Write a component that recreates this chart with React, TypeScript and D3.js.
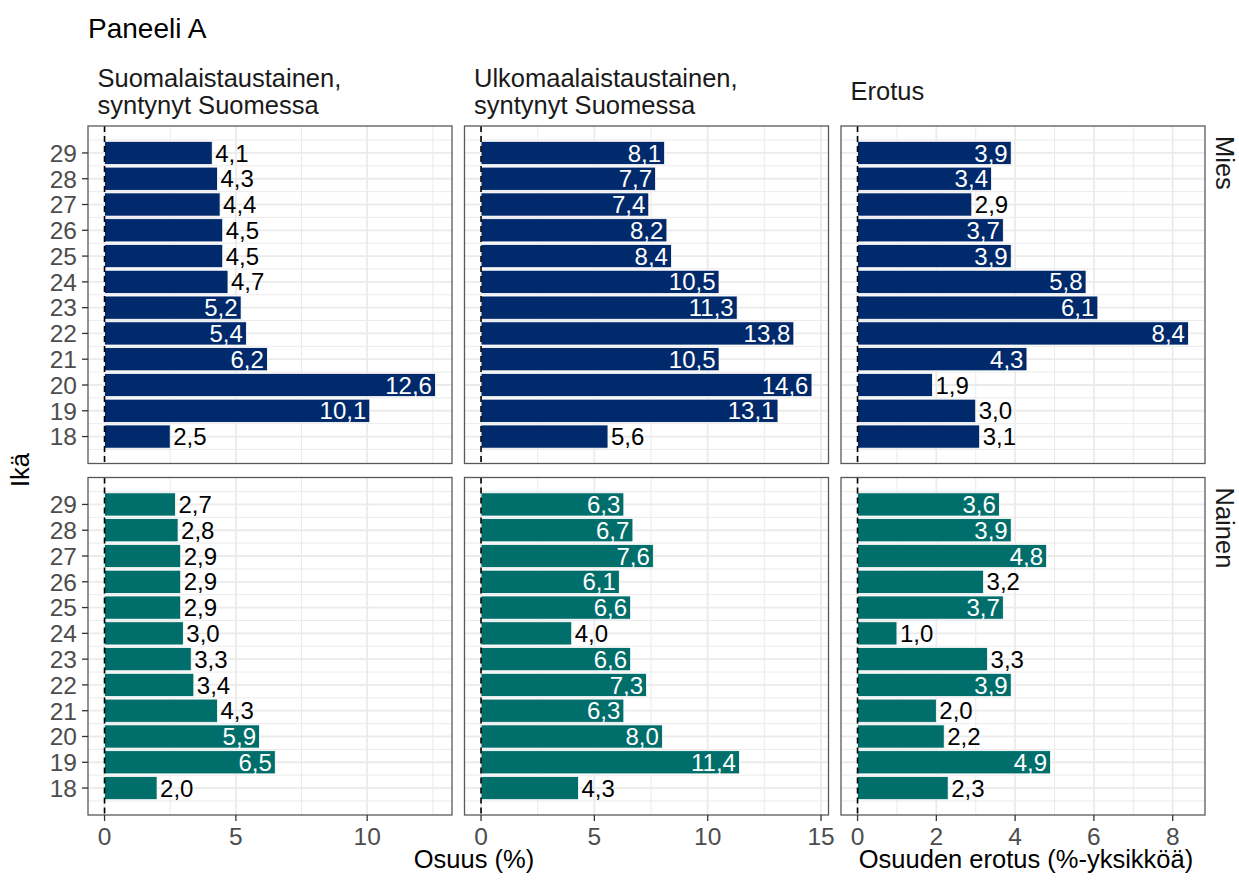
import React from "react";
import * as d3 from "d3";

const AGES = [29, 28, 27, 26, 25, 24, 23, 22, 21, 20, 19, 18];
const MIES_FI = [4.1, 4.3, 4.4, 4.5, 4.5, 4.7, 5.2, 5.4, 6.2, 12.6, 10.1, 2.5];
const MIES_ULK = [8.1, 7.7, 7.4, 8.2, 8.4, 10.5, 11.3, 13.8, 10.5, 14.6, 13.1, 5.6];
const MIES_ERO = [3.9, 3.4, 2.9, 3.7, 3.9, 5.8, 6.1, 8.4, 4.3, 1.9, 3.0, 3.1];
const NAINEN_FI = [2.7, 2.8, 2.9, 2.9, 2.9, 3.0, 3.3, 3.4, 4.3, 5.9, 6.5, 2.0];
const NAINEN_ULK = [6.3, 6.7, 7.6, 6.1, 6.6, 4.0, 6.6, 7.3, 6.3, 8.0, 11.4, 4.3];
const NAINEN_ERO = [3.6, 3.9, 4.8, 3.2, 3.7, 1.0, 3.3, 3.9, 2.0, 2.2, 4.9, 2.3];

const COLUMN_LABELS = [
  ["Suomalaistaustainen,", "syntynyt Suomessa"],
  ["Ulkomaalaistaustainen,", "syntynyt Suomessa"],
  ["Erotus"],
];
const ROW_LABELS = ["Mies", "Nainen"];
const X_TICKS = [[0, 5, 10], [0, 5, 10, 15], [0, 2, 4, 6, 8]];
const X_TITLE_SHARE = "Osuus (%)";
const X_TITLE_DIFF = "Osuuden erotus (%-yksikköä)";
const Y_TITLE = "Ikä";
const TITLE = "Paneeli A";
const NEXT_TITLE = "Paneeli B";

const ROW_COLORS = ["#002A6B", "#006E6B"];

const DATA = [
  [MIES_FI, MIES_ULK, MIES_ERO],
  [NAINEN_FI, NAINEN_ULK, NAINEN_ERO],
];

const W = 1239;
const H = 880;
const FONT = "'Liberation Sans', Arial, Helvetica, sans-serif";
const PANEL_LEFT = 88;
const PANEL_W = 364;
const PANEL_GAP_X = 12.5;
const PANEL_TOP = 126;
const PANEL_H = 337.5;
const PANEL_GAP_Y = 14;

const fmt = (v: number) => d3.format(".1f")(v).replace(".", ",");

export default function App() {
  const ageMin = d3.min(AGES)! - 0.45;
  const ageMax = d3.max(AGES)! + 0.45;
  const ageExp = (ageMax - ageMin) * 0.05;

  const cols = [0, 1, 2].map((c) => {
    const x0 = PANEL_LEFT + c * (PANEL_W + PANEL_GAP_X);
    const maxV = d3.max([...DATA[0][c], ...DATA[1][c]])!;
    const scale = d3
      .scaleLinear()
      .domain([-0.05 * maxV, 1.05 * maxV])
      .range([x0, x0 + PANEL_W]);
    const ticks = X_TICKS[c];
    const step = ticks[1] - ticks[0];
    const minor: number[] = [];
    for (let t = ticks[0] - step / 2; t <= scale.domain()[1]; t += step) {
      if (t >= scale.domain()[0]) minor.push(t);
    }
    return { x0, maxV, scale, ticks, minor };
  });

  const rows = [0, 1].map((r) => {
    const y0 = PANEL_TOP + r * (PANEL_H + PANEL_GAP_Y);
    const scale = d3
      .scaleLinear()
      .domain([ageMin - ageExp, ageMax + ageExp])
      .range([y0 + PANEL_H, y0]);
    const minor: number[] = [];
    for (let a = d3.min(AGES)! - 0.5; a <= d3.max(AGES)! + 0.5; a += 1) minor.push(a);
    return { y0, scale, minor };
  });

  const bottomY = rows[1].y0 + PANEL_H;

  return (
    <svg
      width={W}
      height={H}
      style={{ position: "absolute", left: 0, top: 0, display: "block", background: "#fff" }}
      fontFamily={FONT}
    >
      <rect x={0} y={0} width={W} height={H} fill="#fff" />
      <text x={88} y={38} fontSize={28} fill="#000">
        {TITLE}
      </text>
      <text x={88} y={903} fontSize={28} fill="#000">
        {NEXT_TITLE}
      </text>

      {/* column strips */}
      {cols.map((col, c) => {
        const lines = COLUMN_LABELS[c];
        const baselines = lines.length === 2 ? [87, 114] : [100];
        return (
          <text key={"strip" + c} fontSize={25.5} fill="#1A1A1A">
            {lines.map((l, i) => (
              <tspan key={i} x={col.x0 + 9.5} y={baselines[i]}>
                {l}
              </tspan>
            ))}
          </text>
        );
      })}

      {/* row strips */}
      {rows.map((row, r) => (
        <text
          key={"rstrip" + r}
          transform={`translate(1216,${row.y0 + 10}) rotate(90)`}
          fontSize={25.5}
          fill="#1A1A1A"
        >
          {ROW_LABELS[r]}
        </text>
      ))}

      {rows.map((row, r) =>
        cols.map((col, c) => {
          const vals = DATA[r][c];
          const [px0, px1] = col.scale.range();
          const [py1, py0] = row.scale.range();
          const bw = row.scale(0) - row.scale(0.9);
          return (
            <g key={`p${r}${c}`}>
              {/* minor grid */}
              {col.minor.map((t) => (
                <line key={"vx" + t} x1={col.scale(t)} x2={col.scale(t)} y1={py0} y2={py1} stroke="#EBEBEB" strokeWidth={1} />
              ))}
              {row.minor.map((a) => (
                <line key={"hy" + a} x1={px0} x2={px1} y1={row.scale(a)} y2={row.scale(a)} stroke="#EBEBEB" strokeWidth={1} />
              ))}
              {/* major grid */}
              {col.ticks.map((t) => (
                <line key={"vM" + t} x1={col.scale(t)} x2={col.scale(t)} y1={py0} y2={py1} stroke="#EBEBEB" strokeWidth={1.8} />
              ))}
              {AGES.map((a) => (
                <line key={"hM" + a} x1={px0} x2={px1} y1={row.scale(a)} y2={row.scale(a)} stroke="#EBEBEB" strokeWidth={1.8} />
              ))}
              {/* bars */}
              {AGES.map((a, i) => (
                <rect
                  key={"b" + a}
                  x={col.scale(0)}
                  y={row.scale(a + 0.45)}
                  width={col.scale(vals[i]) - col.scale(0)}
                  height={bw}
                  fill={ROW_COLORS[r]}
                  stroke="#fff"
                  strokeWidth={0.8}
                />
              ))}
              {/* labels */}
              {AGES.map((a, i) => {
                const v = vals[i];
                const inside = v > 0.4 * col.maxV;
                return (
                  <text
                    key={"l" + a}
                    x={inside ? col.scale(v) - 3.5 : col.scale(v) + 3}
                    y={row.scale(a)}
                    dy="0.36em"
                    textAnchor={inside ? "end" : "start"}
                    fontSize={24}
                    fill={inside ? "#fff" : "#000"}
                  >
                    {fmt(v)}
                  </text>
                );
              })}
              {/* zero line */}
              <line
                x1={col.scale(0)}
                x2={col.scale(0)}
                y1={py0}
                y2={py1}
                stroke="#000"
                strokeWidth={1.6}
                strokeDasharray="6,4"
              />
              {/* border */}
              <rect x={px0} y={py0} width={px1 - px0} height={py1 - py0} fill="none" stroke="#595959" strokeWidth={1.3} />
            </g>
          );
        })
      )}

      {/* y axis */}
      {rows.map((row, r) => (
        <g key={"yax" + r}>
          {AGES.map((a) => (
            <g key={a}>
              <line x1={PANEL_LEFT - 6} x2={PANEL_LEFT} y1={row.scale(a)} y2={row.scale(a)} stroke="#333" strokeWidth={1.3} />
              <text x={PANEL_LEFT - 11} y={row.scale(a)} dy="0.36em" textAnchor="end" fontSize={24.5} fill="#4D4D4D">
                {a}
              </text>
            </g>
          ))}
        </g>
      ))}

      {/* x axes */}
      {cols.map((col, c) => (
        <g key={"xax" + c}>
          {col.ticks.map((t) => (
            <g key={t}>
              <line x1={col.scale(t)} x2={col.scale(t)} y1={bottomY} y2={bottomY + 6} stroke="#333" strokeWidth={1.3} />
              <text x={col.scale(t)} y={845} textAnchor="middle" fontSize={24.5} fill="#4D4D4D">
                {t}
              </text>
            </g>
          ))}
        </g>
      ))}

      <text x={474} y={868} textAnchor="middle" fontSize={25.5} fill="#000">
        {X_TITLE_SHARE}
      </text>
      <text x={(cols[2].x0 + cols[2].x0 + PANEL_W) / 2 + 3} y={868} textAnchor="middle" fontSize={25.5} fill="#000">
        {X_TITLE_DIFF}
      </text>
      <text transform={`translate(28.5,470) rotate(-90)`} textAnchor="middle" fontSize={25.5} fill="#000">
        {Y_TITLE}
      </text>
    </svg>
  );
}
